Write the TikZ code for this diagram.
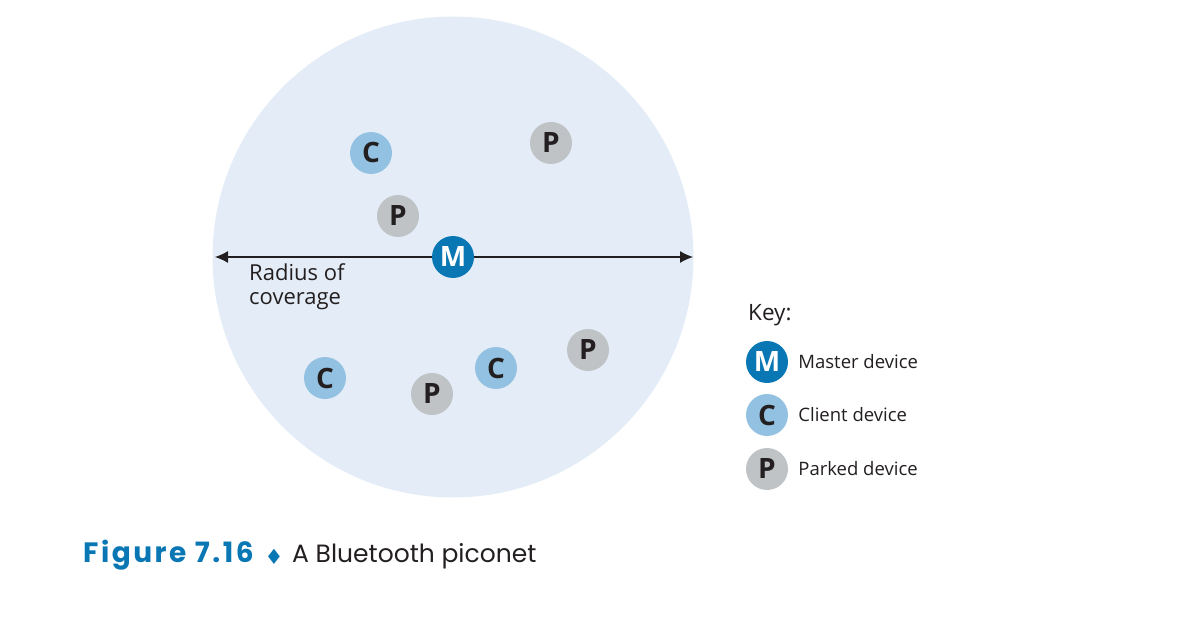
\documentclass[tikz,border=0pt]{standalone}
\usepackage{fontspec}
\setmainfont{Open Sans}
\newfontfamily\captionfont{Poppins}
\newfontfamily\labelfont[LetterSpace=9]{Poppins}
\newfontfamily\symfont{DejaVu Sans}
\usetikzlibrary{positioning,arrows.meta}

\definecolor{areablue}{HTML}{E4EDF7}
\definecolor{masterblue}{HTML}{0A77B5}
\definecolor{clientblue}{HTML}{93C1E1}
\definecolor{parkedgrey}{HTML}{BFC3C6}
\definecolor{inkblack}{HTML}{231F20}

\begin{document}
\begin{tikzpicture}[x=1pt, y=-1pt,
		device/.style={circle, draw=none, minimum size=42pt, inner sep=0pt, text centered,
			font=\bfseries\fontsize{28}{28}\selectfont},
		master/.style={device, fill=masterblue, text=white},
		client/.style={device, fill=clientblue, text=inkblack},
		parked/.style={device, fill=parkedgrey, text=inkblack},
		keytext/.style={right=10pt of #1, inner sep=0pt, text=inkblack, font=\fontsize{18.5}{20}\selectfont},
		radius/.style={-{Latex[length=13pt, width=12pt]}, draw=inkblack, line width=1.2pt}
]
\useasboundingbox (0,0) rectangle (1199,628);

% coverage area
\node [circle, fill=areablue, minimum size=481pt, inner sep=0pt] (Area) at (453,257) {};

% radius arrows
\coordinate (LeftEnd) at (215,257);
\coordinate (RightEnd) at (693,257);
\draw [radius] (453,257) -- (LeftEnd);
\draw [radius] (453,257) -- (RightEnd);

% devices
\node [master] (Master) at (453,257) {M};
\node [client] (C1) at (371,153) {C};
\node [parked] (P1) at (551,143) {P};
\node [parked] (P2) at (398,216) {P};
\node [client] (C2) at (325,378) {C};
\node [parked] (P3) at (432,394) {P};
\node [client] (C3) at (496,368) {C};
\node [parked] (P4) at (588,350) {P};

\node [anchor=base west, align=left, text=inkblack, inner sep=0pt,
	font=\fontsize{22}{24}\selectfont] (RadiusText) at (249,305) {Radius of\\coverage};

% key
\node [anchor=base west, inner sep=0pt, text=inkblack, font=\fontsize{22.5}{24}\selectfont] (Key) at (748,320) {Key:};
\node [master] (KeyM) at (767,362) {M};
\node [client] (KeyC) at (767,415) {C};
\node [parked] (KeyP) at (767,469) {P};
\node [keytext=KeyM] (KeyMText) {Master device};
\node [keytext=KeyC] (KeyCText) {Client device};
\node [keytext=KeyP] (KeyPText) {Parked device};

% caption
\node [anchor=base west, inner sep=0pt, text=masterblue, font=\labelfont\bfseries\fontsize{28}{30}\selectfont] (FigLabel) at (83,562) {Figure 7.16};
\node [inner sep=0pt, text=masterblue, font=\symfont\fontsize{21}{21}\selectfont] (FigMark) at (274,557) {♦};
\node [anchor=base west, inner sep=0pt, text=inkblack, font=\captionfont\fontsize{25}{30}\selectfont] (FigTitle) at (292,562) {A Bluetooth piconet};

\end{tikzpicture}
\end{document}
